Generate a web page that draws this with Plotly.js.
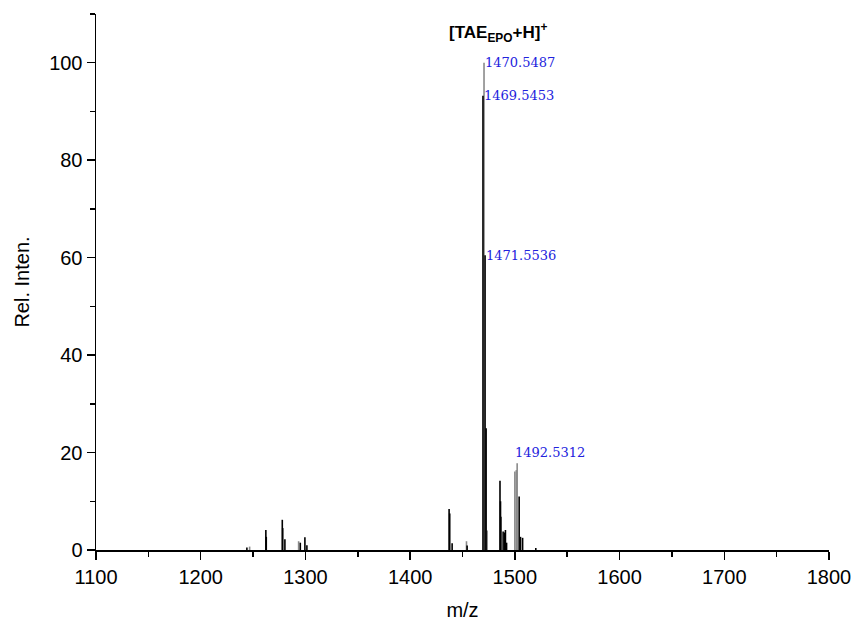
<!DOCTYPE html>
<html>
<head>
<meta charset="utf-8">
<script src="https://cdn.plot.ly/plotly-3.0.1.min.js"></script>
<style>html,body{margin:0;padding:0;background:#fff;}#chart{width:855px;height:626px;}</style>
</head>
<body>
<div id="chart"></div>
<script>
// dark (black) peaks: m/z and relative intensity
const darkMz  = [1244.1, 1262.2, 1262.6, 1277.9, 1278.3, 1280.4, 1295.1, 1299.5, 1301.4,
                 1437.2, 1437.8, 1440.1, 1454.4,
                 1469.55, 1471.55, 1472.55,
                 1485.8, 1486.3, 1486.6, 1488.8, 1490.4, 1491.0, 1492.1,
                 1504.1, 1505.4, 1507.4, 1520.0];
const darkInt = [0.5, 4.1, 2.7, 6.2, 4.5, 2.2, 1.5, 2.6, 1.0,
                 8.4, 7.5, 1.4, 0.9,
                 93.2, 60.5, 25.0,
                 14.2, 10.0, 6.8, 3.8, 3.6, 4.1, 1.5,
                 11.0, 2.7, 2.5, 0.4];
// light (grey) peaks
const lightMz  = [1246.7, 1293.5, 1453.8, 1470.55, 1473.55, 1500.0, 1501.4, 1502.2];
const lightInt = [0.7, 1.8, 1.8, 100.0, 4.0, 16.1, 16.4, 17.8];

// peak labels
const labelText = ['1470.5487', '1469.5453', '1471.5536', '1492.5312'];
const labelMz   = [1470.55, 1469.55, 1471.55, 1492.53];
const labelInt  = [100.0, 93.2, 60.5, 20.1];

const xTicks = [1100, 1200, 1300, 1400, 1500, 1600, 1700, 1800];
const yTicks = [0, 20, 40, 60, 80, 100];

function sticks(mz, inten) {
  const x = [], y = [];
  for (let i = 0; i < mz.length; i++) {
    x.push(mz[i], mz[i], null);
    y.push(0, inten[i], null);
  }
  return {x, y};
}
const d = sticks(darkMz, darkInt);
const l = sticks(lightMz, lightInt);

const traces = [
  {x: l.x, y: l.y, type: 'scatter', mode: 'lines', line: {color: '#8a8a8a', width: 1.6}, hoverinfo: 'skip', showlegend: false},
  {x: d.x, y: d.y, type: 'scatter', mode: 'lines', line: {color: '#000000', width: 1.6}, hoverinfo: 'skip', showlegend: false}
];

const shifts = [0, 0, 0, 7];
const annotations = labelText.map((t, i) => ({
  x: labelMz[i], y: labelInt[i], xref: 'x', yref: 'y',
  text: t, showarrow: false, xanchor: 'left', yanchor: 'middle', xshift: shifts[i] - 1,
  font: {family: 'DejaVu Serif, Liberation Serif, serif', size: 13, color: '#2222dd'}
}));
annotations.push({
  x: 1470.55, y: 106.3, xref: 'x', yref: 'y', showarrow: false,
  xanchor: 'center', yanchor: 'middle', xshift: 14,
  text: '<b>[TAE<sub>EPO</sub>+H]<sup>+</sup></b>',
  font: {family: 'Liberation Sans, Arial, sans-serif', size: 17, color: '#000'}
});

const layout = {
  width: 855, height: 626,
  margin: {l: 96, r: 26, t: 14, b: 76, pad: 0},
  paper_bgcolor: '#fff', plot_bgcolor: '#fff',
  font: {family: 'Liberation Sans, Arial, sans-serif', size: 20, color: '#000'},
  xaxis: {
    range: [1100, 1800], tickvals: xTicks, ticktext: xTicks.map(String),
    ticks: 'outside', ticklen: 8, tickwidth: 1.5, tickcolor: '#000',
    showline: true, linecolor: '#000', linewidth: 1.5, showgrid: false, zeroline: false,
    minor: {dtick: 50, tick0: 1100, ticks: 'outside', ticklen: 5, tickwidth: 1.5, tickcolor: '#000', showgrid: false},
    title: {text: 'm/z', font: {size: 20}, standoff: 16},
    tickfont: {size: 20}
  },
  yaxis: {
    range: [0, 110], tickvals: yTicks, ticktext: yTicks.map(String),
    ticks: 'outside', ticklen: 8, tickwidth: 1.5, tickcolor: '#000',
    showline: true, linecolor: '#000', linewidth: 1.5, showgrid: false, zeroline: false,
    minor: {dtick: 10, tick0: 0, ticks: 'outside', ticklen: 5, tickwidth: 1.5, tickcolor: '#000', showgrid: false},
    title: {text: 'Rel. Inten.', font: {size: 20}, standoff: 14},
    tickfont: {size: 20}
  },
  annotations: annotations,
  showlegend: false
};

Plotly.newPlot('chart', traces, layout, {displayModeBar: false, staticPlot: true});
</script>
</body>
</html>
